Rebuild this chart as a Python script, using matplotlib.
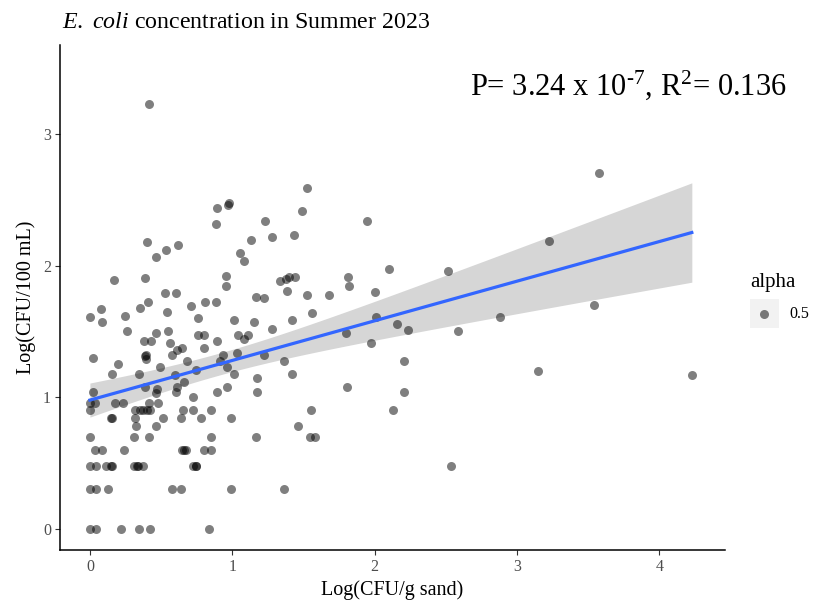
import numpy as np
import matplotlib
matplotlib.use('Agg')
import matplotlib.pyplot as plt
from matplotlib.patches import Rectangle
from matplotlib.lines import Line2D

plt.rcParams['font.family'] = ['Liberation Serif', 'DejaVu Serif']
plt.rcParams['mathtext.fontset'] = 'custom'
plt.rcParams['mathtext.rm'] = 'Liberation Serif'
plt.rcParams['mathtext.it'] = 'Liberation Serif:italic'

# log10 CFU per g sand vs log10 CFU per 100 mL water
sand = [0.413, 1.526, 0.893, 0.972, 0.975, 0.888, 1.486, 1.228, 1.279, 1.432,
        1.130, 1.054, 1.085, 0.403, 0.532, 0.616, 0.464, 0.166, 0.387, 0.954,
        0.954, 1.336, 1.378, 1.400, 1.440, 1.383, 1.526, 0.525, 0.602, 0.410,
        0.077, 0.349, 0.248, 0.000, 0.544, 0.712, 0.806, 0.888, 1.165, 1.223,
        0.084, 0.761, 1.012, 1.155, 1.418, 0.262, 0.464, 0.548, 0.761, 0.801,
        0.890, 1.038, 1.085, 1.107, 1.279, 0.382, 0.427, 0.560, 0.801, 0.609,
        0.649, 0.579, 0.389, 0.392, 0.394, 0.019, 0.195, 0.680, 0.937, 0.914,
        1.031, 1.223, 1.364, 0.152, 0.347, 0.492, 0.598, 0.745, 0.961, 1.015,
        1.172, 1.418, 0.019, 0.000, 0.035, 0.000, 0.389, 0.469, 0.464, 0.609,
        0.602, 0.659, 0.726, 0.893, 0.961, 1.172, 0.173, 0.230, 0.415, 0.476,
        0.320, 0.350, 0.370, 0.400, 0.420, 0.651, 0.721, 0.848, 0.150, 0.152,
        0.318, 0.511, 0.637, 0.783, 0.994, 0.321, 0.462, 1.458, 0.000, 0.309,
        0.413, 0.851, 1.163, 0.037, 0.082, 0.237, 0.645, 0.660, 0.675, 0.804,
        0.851, 0.000, 0.042, 0.112, 0.150, 0.155, 0.309, 0.330, 0.336, 0.370,
        0.722, 0.742, 0.748, 0.000, 0.042, 0.124, 0.580, 0.637, 0.994, 1.364,
        0.000, 0.042, 0.220, 0.344, 0.420, 0.834,
        1.947, 2.102, 2.514, 1.811, 1.821, 1.678, 2.004, 1.563, 2.011, 1.797,
        2.158, 2.236, 2.587, 2.877, 1.975, 2.203, 3.147, 1.802, 2.203, 1.551,
        2.130, 1.547, 1.582, 2.538, 3.574, 3.227, 3.543, 4.227]
water = [3.225, 2.587, 2.437, 2.460, 2.475, 2.318, 2.412, 2.339, 2.217, 2.230,
         2.192, 2.096, 2.033, 2.179, 2.118, 2.154, 2.065, 1.893, 1.903, 1.921,
         1.847, 1.880, 1.900, 1.910, 1.910, 1.810, 1.775, 1.790, 1.790, 1.720,
         1.668, 1.678, 1.620, 1.610, 1.650, 1.696, 1.720, 1.720, 1.760, 1.750,
         1.574, 1.600, 1.585, 1.574, 1.585, 1.500, 1.488, 1.500, 1.475, 1.475,
         1.427, 1.475, 1.443, 1.475, 1.516, 1.427, 1.427, 1.412, 1.377, 1.359,
         1.377, 1.321, 1.313, 1.318, 1.289, 1.296, 1.255, 1.279, 1.321, 1.279,
         1.339, 1.321, 1.279, 1.176, 1.176, 1.230, 1.169, 1.204, 1.230, 1.176,
         1.146, 1.176, 1.041, 0.954, 0.954, 0.903, 1.079, 1.061, 1.035, 1.079,
         1.038, 1.114, 1.000, 1.041, 1.079, 1.041, 0.954, 0.954, 0.954, 0.954,
         0.903, 0.903, 0.903, 0.903, 0.903, 0.903, 0.903, 0.903, 0.845, 0.845,
         0.845, 0.845, 0.845, 0.845, 0.845, 0.778, 0.778, 0.778, 0.699, 0.699,
         0.699, 0.699, 0.699, 0.602, 0.602, 0.602, 0.602, 0.602, 0.602, 0.602,
         0.602, 0.477, 0.477, 0.477, 0.477, 0.477, 0.477, 0.477, 0.477, 0.477,
         0.477, 0.477, 0.477, 0.301, 0.301, 0.301, 0.301, 0.301, 0.301, 0.301,
         0.000, 0.000, 0.000, 0.000, 0.000, 0.000,
         2.339, 1.974, 1.957, 1.916, 1.848, 1.774, 1.802, 1.640, 1.612, 1.488,
         1.554, 1.513, 1.501, 1.610, 1.412, 1.279, 1.202, 1.079, 1.041, 0.903,
         0.903, 0.699, 0.699, 0.478, 2.700, 2.190, 1.703, 1.169]

x_ticks = [0, 1, 2, 3, 4]
y_ticks = [0, 1, 2, 3]

x = np.array(sand)
y = np.array(water)

# ordinary least squares fit with 95% confidence band
slope, intercept = np.polyfit(x, y, 1)
n = len(x)
resid = y - (intercept + slope * x)
s = np.sqrt(np.sum(resid ** 2) / (n - 2))
sxx = np.sum((x - x.mean()) ** 2)
xs = np.linspace(x.min(), x.max(), 100)
fit = intercept + slope * xs
se = s * np.sqrt(1 / n + (xs - x.mean()) ** 2 / sxx)
t = 1.972

fig = plt.figure(figsize=(8.2, 6.04), dpi=100)
ax = fig.add_axes([60 / 820, 1 - 550 / 604, 665 / 820, 505 / 604])

ax.fill_between(xs, fit - t * se, fit + t * se, color='#d6d6d6', lw=0, zorder=1)
ax.scatter(x, y, s=42, color='black', alpha=0.5, lw=0, zorder=2)
ax.plot(xs, fit, color='#3366FF', lw=2.3, zorder=3)

ax.set_xlim(-0.21, 4.46)
ax.set_ylim(-0.16, 3.675)
ax.set_xticks(x_ticks)
ax.set_yticks(y_ticks)
ax.tick_params(length=3.5, width=0.8, color='#333333', labelcolor='#4d4d4d',
               labelsize=11.5, pad=3)
for side in ['top', 'right']:
    ax.spines[side].set_visible(False)
for side in ['left', 'bottom']:
    ax.spines[side].set_linewidth(1.1)
    ax.spines[side].set_color('black')

ax.set_xlabel('Log(CFU/g sand)', fontsize=14.5, labelpad=4)
ax.set_ylabel('Log(CFU/100 mL)', fontsize=14.5, labelpad=5)

ax.text(0.617, 0.921,
        r'P= 3.24 x 10$^{\text{-7}}$, R$^{\mathrm{2}}$= 0.136',
        transform=ax.transAxes, fontsize=22, ha='left', va='center')

fig.text(62 / 820, 1 - 22 / 604,
         r'$\mathit{E.}$ $\mathit{coli}$ concentration in Summer 2023',
         fontsize=17.2, ha='left', va='center')

# legend for the alpha aesthetic
fig.text(750 / 820, 1 - 282 / 604, 'alpha', fontsize=15, ha='left', va='center')
fig.add_artist(Rectangle((750 / 820, 1 - 328 / 604), 29 / 820, 29 / 604,
                         transform=fig.transFigure, color='#f2f2f2', lw=0))
fig.add_artist(Line2D([764.5 / 820], [1 - 313.5 / 604], transform=fig.transFigure,
                      marker='o', ms=6.5, color='black', alpha=0.5, mew=0, lw=0))
fig.text(789 / 820, 1 - 314 / 604, '0.5', fontsize=11.5, ha='left', va='center')

fig.savefig('out.png', dpi=100)
